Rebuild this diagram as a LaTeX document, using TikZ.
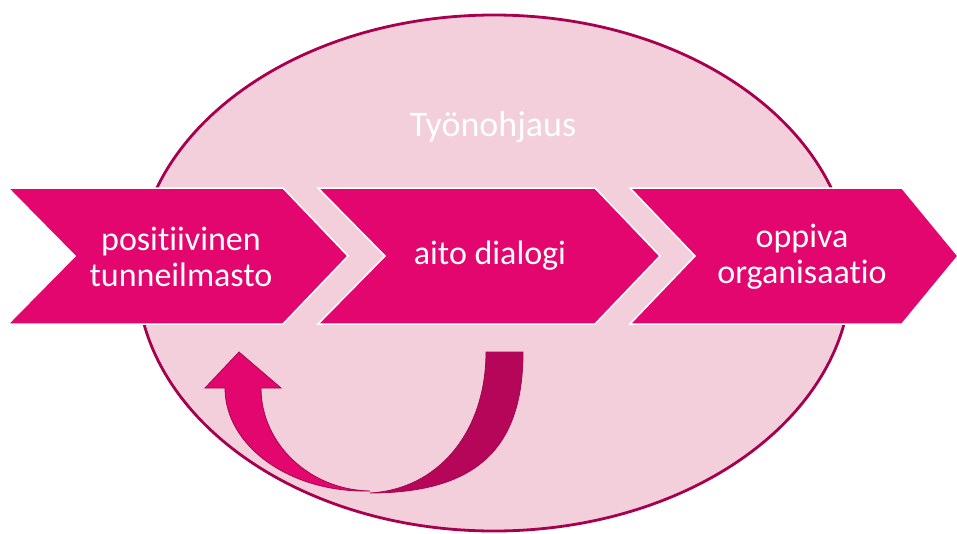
\documentclass[tikz,border=0pt]{standalone}
\usepackage{fontspec}
\setmainfont{Carlito}[Ligatures=NoCommon]
\definecolor{chevronFill}{HTML}{E3066F}
\definecolor{ovalFill}{HTML}{F2CFDA}
\definecolor{ovalLine}{HTML}{A6004F}
\definecolor{arrowDark}{HTML}{B5065A}
\definecolor{arrowLine}{HTML}{A3084E}
\begin{document}
\begin{tikzpicture}[x=1pt,y=-1pt,
  chevron/.style={fill=chevronFill, draw=white, line width=1.5pt, line join=miter},
  boxtext/.style={text=white, align=center, inner sep=0pt,
    font=\fontsize{34}{36}\selectfont},
  arrowpart/.style={draw=arrowLine, line width=0.8pt, line join=miter}]
\useasboundingbox (0,0) rectangle (957,533);

% background oval
\draw[fill=ovalFill, draw=ovalLine, line width=2.8pt]
  (494,273) ellipse [x radius=357, y radius=258];
\node[text=white, inner sep=0pt, font=\fontsize{36}{38}\selectfont] (title) at (493,127) {Työnohjaus};

% three chevrons
\path[chevron] (8,188) -- (283,188) -- (348,256) -- (283,324) -- (8,324) -- (75,256) -- cycle;
\path[chevron] (318,188) -- (595,188) -- (660,256) -- (595,324) -- (318,324) -- (385,256) -- cycle;
\path[chevron] (630,188) -- (902,188) -- (958,256) -- (902,324) -- (630,324) -- (695,256) -- cycle;

\node[boxtext] (step1) at (181,257) {positiivinen\\tunneilmasto};
\node[boxtext] (step2) at (490,256) {aito dialogi};
\node[boxtext] (step3) at (802,257) {oppiva\\organisaatio};

% U-turn arrow: back band
\path[arrowpart, fill=arrowDark]
  (486,352) -- (523,352)
  .. controls (523,445) and (480,493) .. (370,493)
  .. controls (440,489) and (486,430) .. (486,352) -- cycle;
% U-turn arrow: front band with head
\path[arrowpart, fill=chevronFill]
  (225,388) -- (205,388) -- (239,352) -- (281,388) -- (261,388)
  .. controls (261,444) and (310,490) .. (370,491)
  .. controls (290,493) and (225,446) .. (225,388) -- cycle;
\end{tikzpicture}
\end{document}
